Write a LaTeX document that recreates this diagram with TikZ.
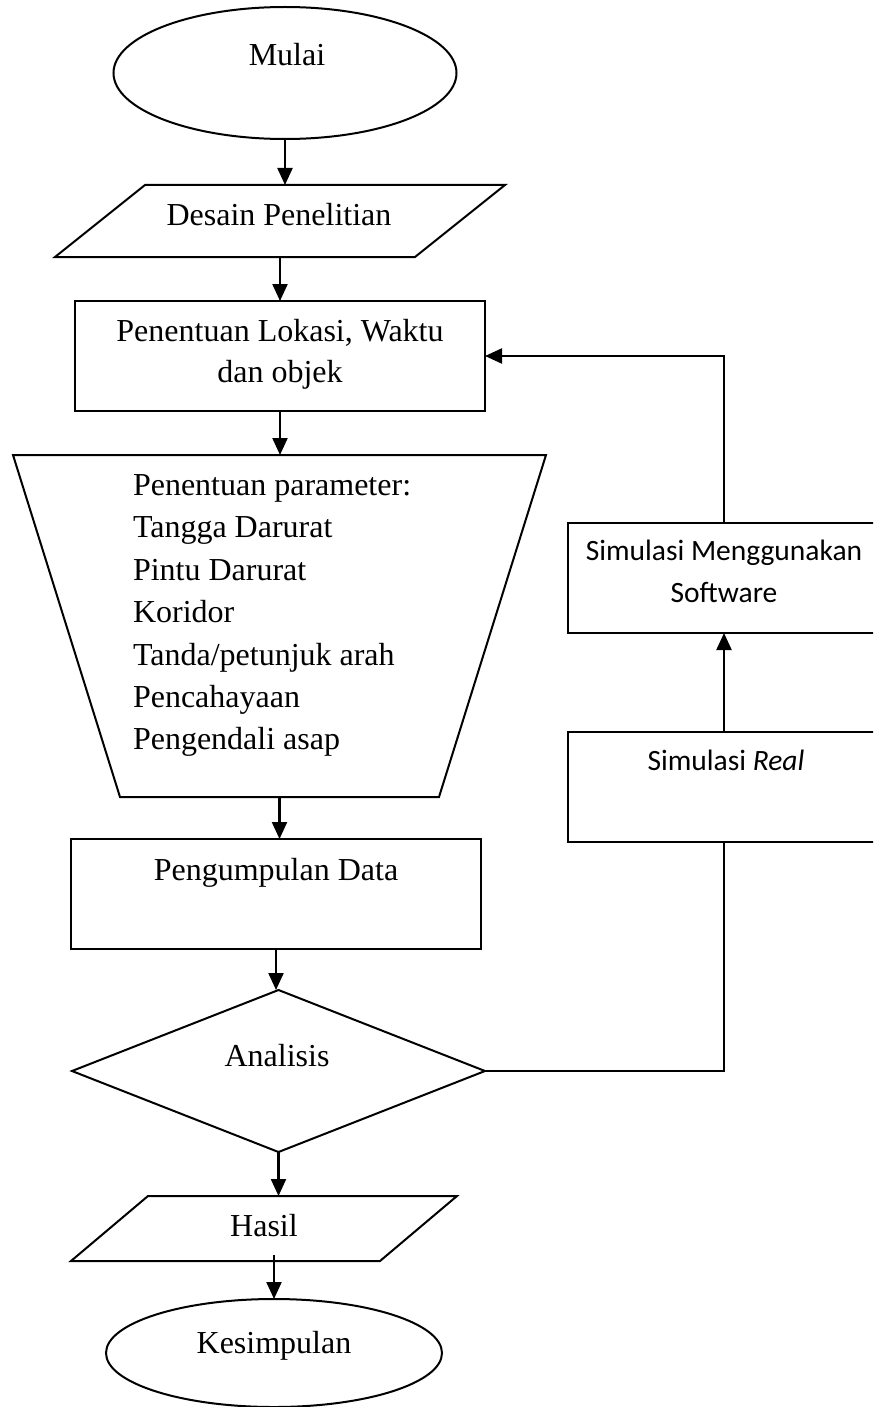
\documentclass[tikz,border=0pt]{standalone}
\usepackage{fontspec}
\setmainfont{Liberation Serif}
\newfontfamily\calfont{Carlito}
\usetikzlibrary{shapes.geometric,arrows.meta,calc}
\begin{document}
\begin{tikzpicture}[x=1pt,y=-1pt,
  every node/.style={inner sep=0pt,outer sep=0pt},
  shp/.style={draw,line width=2pt},
  frame/.style={rectangle},
  outline/.style={line width=2pt,line join=miter},
  txt/.style={anchor=base,font=\fontsize{32}{42}\selectfont},
  ltxt/.style={anchor=base west,font=\fontsize{32}{42}\selectfont},
  ctxt/.style={anchor=base,font=\calfont\fontsize{29.5}{35}\selectfont},
  arr/.style={-{Triangle[length=17pt,width=15pt]},line width=2.2pt},
  conn/.style={line width=2.2pt}]
\useasboundingbox (0,0) rectangle (873,1407);
\clip (0,0) rectangle (873,1407);
% shapes
\node[shp,ellipse,minimum width=343pt,minimum height=132pt] (mulai) at (285,73) {};
\node[frame,minimum width=450pt,minimum height=72pt] (desain) at (280,221) {};
\draw[outline] ($(desain.north west)+(90,0)$) -- (desain.north east) -- ($(desain.south east)+(-90,0)$) -- (desain.south west) -- cycle;
\node[shp,rectangle,minimum width=410pt,minimum height=110pt] (pen) at (280,356) {};
\node[frame,minimum width=533pt,minimum height=342pt] (param) at (279.5,626) {};
\draw[outline] (param.north west) -- (param.north east) -- ($(param.south east)+(-107,0)$) -- ($(param.south west)+(107,0)$) -- cycle;
\node[shp,rectangle,minimum width=410pt,minimum height=110pt] (kumpul) at (276,894) {};
\node[shp,diamond,minimum width=413pt,minimum height=162pt] (analisis) at (278.5,1071) {};
\node[frame,minimum width=386pt,minimum height=65pt] (hasil) at (264,1228.5) {};
\draw[outline] ($(hasil.north west)+(77,0)$) -- (hasil.north east) -- ($(hasil.south east)+(-77,0)$) -- (hasil.south west) -- cycle;
\node[shp,ellipse,minimum width=336pt,minimum height=108pt] (kesimpulan) at (274,1353) {};
\node[shp,rectangle,minimum width=312pt,minimum height=110pt] (simmeng) at (724,578) {};
\node[shp,rectangle,minimum width=312pt,minimum height=110pt] (simreal) at (724,787) {};
% texts
\node[txt] (tmulai) at (287,66) {Mulai};
\node[txt] (tdesain) at (279,225) {Desain Penelitian};
\node[txt] (tpen1) at (280,341) {Penentuan Lokasi, Waktu};
\node[txt] (tpen2) at (280,382) {dan objek};
\node[ltxt] (tpar1) at (133,495) {Penentuan parameter:};
\node[ltxt] (tpar2) at (133,537.5) {Tangga Darurat};
\node[ltxt] (tpar3) at (133,580) {Pintu Darurat};
\node[ltxt] (tpar4) at (133,622) {Koridor};
\node[ltxt] (tpar5) at (133,665) {Tanda/petunjuk arah};
\node[ltxt] (tpar6) at (133,707) {Pencahayaan};
\node[ltxt] (tpar7) at (133,749) {Pengendali asap};
\node[txt] (tkumpul) at (276,880) {Pengumpulan Data};
\node[txt] (tanalisis) at (277,1066) {Analisis};
\node[txt] (thasil) at (264,1236) {Hasil};
\node[txt] (tkesimpulan) at (274,1353) {Kesimpulan};
\node[ctxt] (tsm1) at (724,560) {Simulasi Menggunakan};
\node[ctxt] (tsm2) at (724,602) {Software};
\node[ctxt] (tsr) at (726,770) {Simulasi \textit{Real}};
% connectors
\draw[arr] (mulai.south) -- (mulai.south |- desain.north);
\draw[arr] (desain.south) -- (desain.south |- pen.north);
\draw[arr] (pen.south) -- (pen.south |- param.north);
\draw[arr] (param.south) -- (param.south |- kumpul.north);
\draw[arr] (kumpul.south) -- (kumpul.south |- analisis.north);
\draw[arr] (analisis.south) -- (analisis.south |- hasil.north);
\draw[arr] ($(kesimpulan.north |- hasil.south)+(0,-6)$) -- (kesimpulan.north);
\draw[conn] (analisis.east) -| (simreal.south);
\draw[arr] (simreal.north) -- (simmeng.south);
\draw[arr] (simmeng.north) |- (pen.east);
\end{tikzpicture}
\end{document}
